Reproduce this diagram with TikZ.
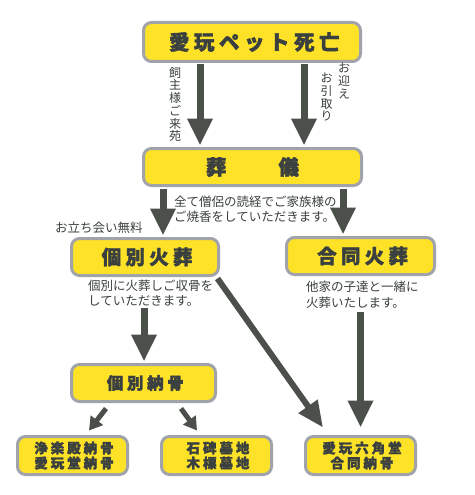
\documentclass[tikz,border=0pt]{standalone}
\usepackage{fontspec}
\usetikzlibrary{arrows.meta}
\newfontfamily\jp{Noto Sans CJK JP}
\newfontfamily\jpt{Noto Sans CJK JP}[LetterSpace=22, BoldFeatures={FakeBold=2}]
\definecolor{boxfill}{RGB}{253,226,40}
\definecolor{boxline}{RGB}{160,164,170}
\definecolor{ink}{RGB}{58,64,64}
\definecolor{arrowc}{RGB}{75,80,75}
\begin{document}
\begin{tikzpicture}[x=1pt,y=-1pt,
  box/.style={draw=boxline, line width=3pt, fill=boxfill, rounded corners=8pt, text=ink, inner sep=0pt, align=center},
  bigtitle/.style={font=\jpt\bfseries\fontsize{20.5}{24}\selectfont},
  midtitle/.style={font=\jpt\bfseries\fontsize{19.5}{24}\selectfont},
  subtitle/.style={font=\jpt\bfseries\fontsize{16.5}{20}\selectfont},
  smalltitle/.style={font=\jpt\bfseries\fontsize{13.5}{15}\selectfont},
  bigarrow/.style={draw=arrowc, line width=7pt, -{Triangle[length=27pt,width=24pt]}},
  diagarrow/.style={draw=arrowc, line width=6pt, -{Triangle[length=26pt,width=22pt]}},
  smallarrow/.style={draw=arrowc, line width=5pt, -{Triangle[length=13pt,width=15pt]}},
  note/.style={text=ink, inner sep=0pt, font=\jp\fontsize{12.5}{15.5}\selectfont, align=left},
  vnote/.style={text=ink, inner sep=0pt, font=\jp\fontsize{12}{12.7}\selectfont, align=center, anchor=north},
]
\useasboundingbox[fill=white] (0,0) rectangle (474,495);

% boxes
\node[box, bigtitle, minimum width=217pt, minimum height=39pt] (b1) at (252,42) {愛玩ペット死亡\kern-0.22em};
\node[box, bigtitle, minimum width=218pt, minimum height=37pt] (b2) at (252.5,167) {葬\hspace{52pt}儀};
\node[box, midtitle, minimum width=147pt, minimum height=37pt] (b3) at (145,257) {個別火葬\kern-0.22em};
\node[box, midtitle, minimum width=148pt, minimum height=37pt] (b4) at (360.5,256) {合同火葬\kern-0.22em};
\node[box, subtitle, minimum width=144pt, minimum height=37pt] (b5) at (143.5,383) {個別納骨\kern-0.22em};
\node[box, smalltitle, minimum width=110pt, minimum height=38pt] (b6) at (72.5,455.5) {浄楽殿納骨\kern-0.22em\\愛玩堂納骨\kern-0.22em};
\node[box, smalltitle, minimum width=110pt, minimum height=38pt] (b7) at (216.5,455.5) {石碑墓地\kern-0.22em\\木標墓地\kern-0.22em};
\node[box, smalltitle, minimum width=110pt, minimum height=38pt] (b8) at (360.5,455.5) {愛玩六角堂\kern-0.22em\\合同納骨\kern-0.22em};

% notes
\node[vnote] (v1) at (175,67) {飼\\主\\様\\ご\\来\\苑};
\node[vnote] (v2) at (344,63) {お\\迎\\え};
\node[vnote] (v3) at (326.5,73) {お\\引\\取\\り};
\node[note, anchor=west] (n1) at (174,209) {全て僧侶の読経でご家族様の\\ご焼香をしていただきます。};
\node[note, anchor=west] (n2) at (55,228) {お立ち会い無料};
\node[note, anchor=west] (n3) at (88,293) {個別に火葬しご収骨を\\していただきます。};
\node[note, anchor=west] (n4) at (306,295) {他家の子達と一緒に\\火葬いたします。};

\coordinate (c5) at (144,308);
\coordinate (c7) at (360.5,312);

% arrows
\draw[bigarrow, shorten <=1.5pt, shorten >=1.5pt] ([xshift=-52pt]b1.south) -- ([xshift=-52.5pt]b2.north);
\draw[bigarrow, shorten <=1.5pt, shorten >=1.5pt] ([xshift=52pt]b1.south) -- ([xshift=51.5pt]b2.north);
\draw[bigarrow, shorten <=1.5pt, shorten >=1.5pt] ([xshift=-89.5pt]b2.south) -- ([xshift=18pt]b3.north);
\draw[bigarrow, shorten <=1.5pt, shorten >=1.5pt] ([xshift=90.5pt]b2.south) -- ([xshift=-17.5pt]b4.north);
\draw[bigarrow, shorten >=1.5pt] (c5) -- ([xshift=0.5pt]b5.north);
\draw[diagarrow] ([xshift=-2.5pt,yshift=-1.5pt]b3.south east) -- ([xshift=-37.5pt,yshift=7.5pt]b8.north);
\draw[bigarrow] (c7) -- ([yshift=7.5pt]b8.north);
\draw[smallarrow] ([xshift=-37.5pt,yshift=-5.5pt]b5.south) -- ([xshift=16.5pt,yshift=4.5pt]b6.north);
\draw[smallarrow] ([xshift=37.5pt,yshift=-5.5pt]b5.south) -- ([xshift=-19.5pt,yshift=4.5pt]b7.north);
\end{tikzpicture}
\end{document}
